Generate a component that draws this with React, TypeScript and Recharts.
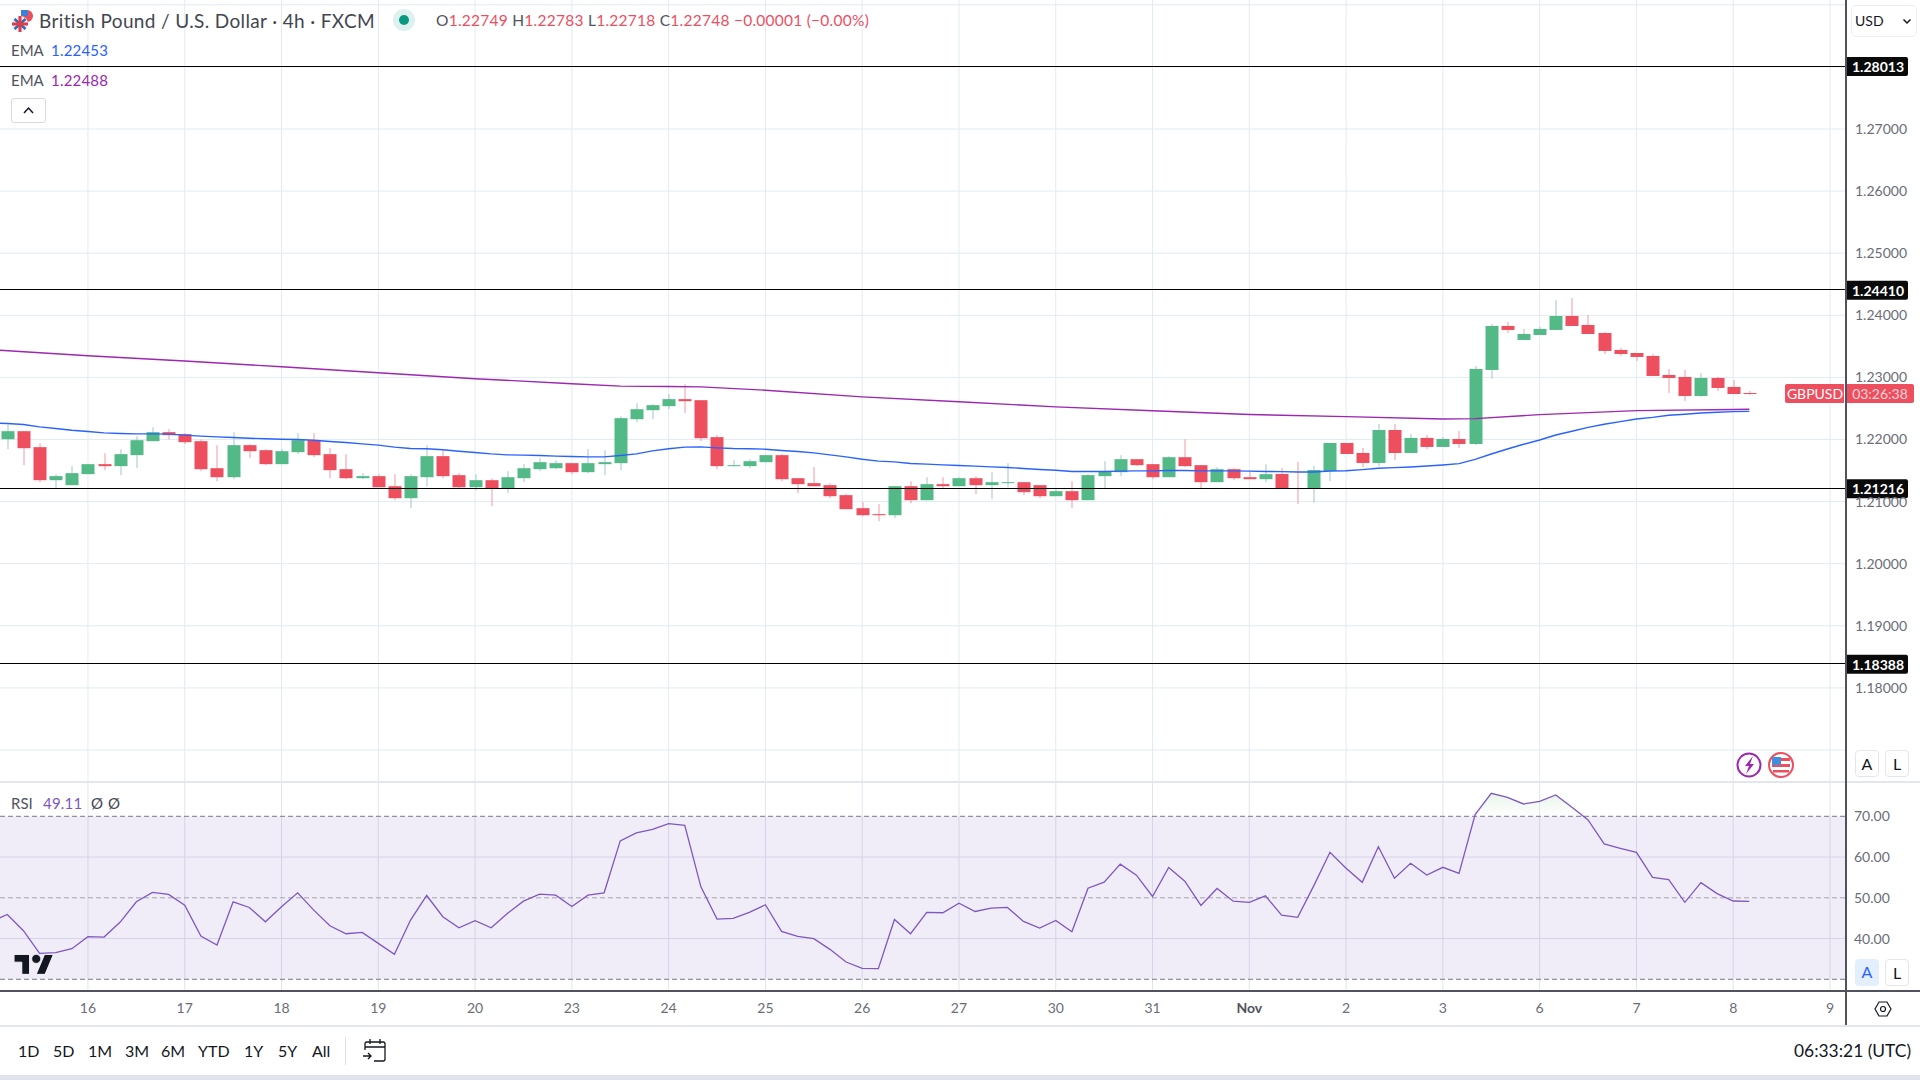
import {
  Area,
  Bar,
  CartesianGrid,
  ComposedChart,
  Label,
  Line,
  ReferenceArea,
  ReferenceLine,
  XAxis,
  YAxis,
} from "recharts";

const FONT = "Lato, 'Open Sans', sans-serif";

// candles, one entry per 4h bar
const candleOpen = [
  1.22005, 1.22134, 1.21877, 1.21345, 1.21265, 1.21442, 1.21603, 1.21571, 1.21748, 1.21973,
  1.22118, 1.22086, 1.21973, 1.21538, 1.21393, 1.21909, 1.21828, 1.21603, 1.21796, 1.21989,
  1.21764, 1.21522, 1.21377, 1.2141, 1.21248, 1.21055, 1.21393, 1.21732, 1.21426, 1.21232,
  1.21345, 1.21216, 1.21377, 1.21522, 1.21538, 1.21619, 1.21474, 1.21603, 1.21619, 1.22327,
  1.22472, 1.22537, 1.2265, 1.22633, 1.22038, 1.21571, 1.21571, 1.21635, 1.21748, 1.21377,
  1.21297, 1.21265, 1.21104, 1.20894, 1.20798, 1.20781, 1.21248, 1.21023, 1.21281, 1.21248,
  1.21377, 1.21265, 1.21297, 1.21313, 1.21265, 1.21087, 1.21168, 1.21023, 1.2141, 1.21474,
  1.21683, 1.21603, 1.21393, 1.21715, 1.21587, 1.21313, 1.21522, 1.21393, 1.21361, 1.21445,
  1.21219, 1.21209, 1.21493, 1.21944, 1.21783, 1.21622, 1.22153, 1.21783, 1.22025, 1.2188,
  1.22008, 1.21928, 1.2312, 1.23828, 1.23603, 1.23683, 1.23764, 1.23989, 1.23844, 1.23715,
  1.23442, 1.23393, 1.23345, 1.23039, 1.23007, 1.22701, 1.22991, 1.22846, 1.22749,
];
const candleHigh = [
  1.22242, 1.22134, 1.21941, 1.21442, 1.21571, 1.21603, 1.2178, 1.21844, 1.22054, 1.22199,
  1.22166, 1.22102, 1.22, 1.21909, 1.22118, 1.21925, 1.21844, 1.21844, 1.22102, 1.22102,
  1.2186, 1.21764, 1.21458, 1.21442, 1.21442, 1.21442, 1.21909, 1.21828, 1.21458, 1.21442,
  1.21377, 1.2149, 1.21603, 1.21699, 1.21667, 1.21619, 1.21844, 1.21828, 1.22376, 1.22585,
  1.22569, 1.2273, 1.22891, 1.22633, 1.2207, 1.21667, 1.21683, 1.21748, 1.21764, 1.21377,
  1.21554, 1.21297, 1.2112, 1.20991, 1.20959, 1.21248, 1.21329, 1.21393, 1.21393, 1.21393,
  1.2141, 1.21474, 1.21619, 1.21313, 1.21265, 1.21216, 1.21329, 1.21442, 1.21651, 1.21748,
  1.21683, 1.21603, 1.21732, 1.22005, 1.21587, 1.21554, 1.21538, 1.2149, 1.21603, 1.21541,
  1.21638, 1.21574, 1.21944, 1.21944, 1.21864, 1.2225, 1.2225, 1.22089, 1.22073, 1.22041,
  1.22137, 1.23184, 1.2386, 1.23893, 1.2378, 1.23812, 1.24247, 1.24279, 1.24005, 1.23732,
  1.23474, 1.23393, 1.23377, 1.23136, 1.2312, 1.23071, 1.23007, 1.22959, 1.22783,
];
const candleLow = [
  1.21844, 1.21587, 1.21313, 1.21216, 1.21265, 1.21442, 1.21506, 1.21426, 1.21538, 1.21973,
  1.22, 1.21925, 1.2149, 1.21329, 1.21361, 1.21699, 1.21587, 1.21603, 1.21764, 1.21715,
  1.21377, 1.21361, 1.21361, 1.21232, 1.21023, 1.20894, 1.21248, 1.21377, 1.21216, 1.21184,
  1.20926, 1.21136, 1.21313, 1.2149, 1.21522, 1.21442, 1.21458, 1.21426, 1.21506, 1.22279,
  1.22327, 1.22488, 1.22424, 1.21973, 1.21522, 1.21571, 1.21538, 1.21635, 1.21329, 1.21136,
  1.21248, 1.21055, 1.20878, 1.20765, 1.20685, 1.20733, 1.20975, 1.21023, 1.21216, 1.21248,
  1.2112, 1.21039, 1.21232, 1.21104, 1.21055, 1.21087, 1.20894, 1.21023, 1.212, 1.2141,
  1.21571, 1.21361, 1.21393, 1.21554, 1.212, 1.21313, 1.21345, 1.21361, 1.21313, 1.21209,
  1.20962, 1.20983, 1.21332, 1.21767, 1.21558, 1.21574, 1.2167, 1.21783, 1.21847, 1.2188,
  1.21864, 1.21912, 1.22975, 1.23715, 1.23603, 1.23683, 1.23764, 1.23828, 1.23699, 1.23377,
  1.23345, 1.23265, 1.23023, 1.22749, 1.2262, 1.22685, 1.22781, 1.22733, 1.22718,
];
const candleClose = [
  1.22134, 1.2186, 1.21345, 1.2141, 1.21458, 1.21603, 1.21571, 1.21764, 1.21989, 1.22118,
  1.2207, 1.21957, 1.21522, 1.21393, 1.21909, 1.21812, 1.21603, 1.21812, 1.21989, 1.21748,
  1.21506, 1.21377, 1.2141, 1.21232, 1.21055, 1.2141, 1.21732, 1.2141, 1.21232, 1.21345,
  1.21216, 1.21393, 1.21538, 1.21635, 1.21619, 1.21474, 1.21619, 1.21635, 1.22344, 1.22488,
  1.22553, 1.2265, 1.22617, 1.22021, 1.21571, 1.21587, 1.21651, 1.21748, 1.21361, 1.21281,
  1.21248, 1.21087, 1.20878, 1.20781, 1.20781, 1.21248, 1.21023, 1.21281, 1.21248, 1.21377,
  1.21265, 1.21313, 1.21313, 1.21152, 1.21087, 1.21168, 1.21023, 1.21426, 1.2149, 1.21683,
  1.21587, 1.21393, 1.21715, 1.21571, 1.21313, 1.21522, 1.21377, 1.21361, 1.21442, 1.21209,
  1.21209, 1.21509, 1.21944, 1.21767, 1.21622, 1.22153, 1.21783, 1.22025, 1.2188, 1.22008,
  1.21928, 1.23136, 1.23828, 1.23764, 1.23699, 1.2378, 1.23989, 1.23828, 1.23699, 1.23426,
  1.23377, 1.23329, 1.23023, 1.22991, 1.22701, 1.22991, 1.2283, 1.22733, 1.22748,
];

// first entry belongs to the bar just off the left edge
const emaFast = [
  1.22268, 1.22258, 1.22242, 1.22204, 1.22177, 1.2215, 1.22129, 1.22107, 1.22097, 1.22091, 1.22091,
  1.22086, 1.2207, 1.22054, 1.22043, 1.22032, 1.22021, 1.22011, 1.22005, 1.22, 1.21989,
  1.21968, 1.21952, 1.2193, 1.21909, 1.21877, 1.21855, 1.2185, 1.21834, 1.21812, 1.21791,
  1.21769, 1.21753, 1.21748, 1.21742, 1.21732, 1.21726, 1.21721, 1.21721, 1.21742, 1.21769,
  1.21817, 1.2185, 1.21877, 1.21882, 1.21866, 1.21855, 1.2185, 1.21844, 1.21823, 1.21807,
  1.21785, 1.21753, 1.21721, 1.21683, 1.21651, 1.2164, 1.21613, 1.21603, 1.21592, 1.21581,
  1.21571, 1.2156, 1.21549, 1.21533, 1.21517, 1.21506, 1.21485, 1.21485, 1.21485, 1.2149,
  1.21495, 1.21495, 1.21501, 1.21501, 1.21495, 1.21495, 1.21495, 1.2149, 1.21485, 1.21482,
  1.21477, 1.21477, 1.21493, 1.21498, 1.21515, 1.21536, 1.21547, 1.21558, 1.21574, 1.2159,
  1.21611, 1.21681, 1.21767, 1.21847, 1.21923, 1.21992, 1.22073, 1.22132, 1.22196, 1.22245,
  1.22288, 1.22331, 1.22357, 1.2239, 1.22406, 1.22427, 1.22438, 1.22449, 1.22453,
];

// read at the bars listed, the line runs straight between them
const emaSlowBars = [-1, 5, 11, 17, 23, 29, 35, 38, 41, 43, 47, 53, 59, 65, 71, 77, 83, 89, 91, 95, 101, 107, 108];
const emaSlowValues = [
  1.23446, 1.23349, 1.23263, 1.23172, 1.23075, 1.22979, 1.22898, 1.2286, 1.22854, 1.22848, 1.22794,
  1.22687, 1.22607, 1.22526, 1.22462, 1.22403, 1.22368, 1.22331, 1.22336, 1.224, 1.22465, 1.22484, 1.22488,
];

const rsiValues = [
  44.12, 45.92, 41.92, 36.37, 36.53, 37.51, 40.45, 40.37, 44.04, 49.02, 51.31,
  50.82, 48.2, 40.61, 38.41, 49.02, 47.63, 44.12, 47.8, 51.23, 46.98,
  43.14, 41.18, 41.51, 38.82, 36.12, 44.53, 50.57, 45.35, 42.65, 44.37,
  42.65, 46.16, 49.18, 50.9, 50.65, 47.88, 50.65, 51.23, 63.96, 65.92,
  66.82, 68.2, 67.8, 52.69, 44.78, 44.94, 46.41, 48.29, 41.76, 40.53,
  39.96, 37.35, 34.25, 32.69, 32.61, 44.69, 41.18, 46.41, 46.33, 48.69,
  46.65, 47.47, 47.63, 44.2, 42.57, 44.45, 41.67, 52.37, 53.84, 58.25,
  55.55, 50.33, 57.43, 54.08, 48.12, 52.29, 49.18, 48.86, 50.49, 45.76,
  45.21, 52.99, 61.17, 57.24, 53.8, 62.56, 54.79, 58.47, 55.6, 57.48,
  56.01, 70.41, 75.64, 74.66, 73.03, 73.68, 75.24, 72.21, 69.1, 63.21,
  62.15, 61.17, 55.03, 54.46, 48.9, 53.72, 51.02, 49.22, 49.11,
];

const priceTicks = [1.17, 1.18, 1.19, 1.2, 1.21, 1.22, 1.23, 1.24, 1.25, 1.26, 1.27, 1.28, 1.29];
const hiddenPriceTicks = [1.17, 1.28, 1.29];
const levels = [1.28013, 1.2441, 1.21216, 1.18388];
const lastPrice = 1.22748;

const rsiGrid = [40, 60];
const rsiBands = [30, 50, 70];
const rsiTicks = [40, 50, 60, 70];

const dayBars = [5, 11, 17, 23, 29, 35, 41, 47, 53, 59, 65, 71, 77, 83, 89, 95, 101, 107, 113];
const dayLabels = ["16", "17", "18", "19", "20", "23", "24", "25", "26", "27", "30", "31", "Nov", "2", "3", "6", "7", "8", "9"];

const ranges = ["1D", "5D", "1M", "3M", "6M", "YTD", "1Y", "5Y", "All"];
const rangeLefts = [18, 53, 88, 125, 161, 198, 244, 278, 312];

const rows = emaFast.map((fast, i) => {
  const bar = i - 1;
  const c = bar >= 0 ? bar : -1;
  const slowAt = emaSlowBars.indexOf(bar);
  return {
    bar,
    open: c >= 0 ? candleOpen[c] : null,
    close: c >= 0 ? candleClose[c] : null,
    range: c >= 0 ? [candleLow[c], candleHigh[c]] : null,
    emaFast: fast,
    emaSlow: slowAt >= 0 ? emaSlowValues[slowAt] : null,
    rsi: rsiValues[i],
    rsiOver: [70, Math.max(70, rsiValues[i])],
  };
});

const xDomain: [number, number] = [-0.4526, 113.93];

function Candle(props: any) {
  const { x, y, width, height, payload } = props;
  if (!payload || !payload.range) return null;
  const [low, high] = payload.range;
  const up = payload.close >= payload.open;
  const perUnit = Math.abs(height) / (high - low);
  const bodyTop = y + (high - Math.max(payload.open, payload.close)) * perUnit;
  const bodyH = Math.max(1, Math.abs(payload.open - payload.close) * perUnit);
  const mid = Math.round(x + width / 2);
  return (
    <g>
      <rect x={mid - 0.5} y={y} width={1} height={Math.abs(height)} fill={up ? "#a5c6c8" : "#f797a5"} />
      <rect x={mid - 6.5} y={bodyTop} width={13} height={bodyH} fill={up ? "#53b987" : "#ee4f5f"} />
    </g>
  );
}

function levelBadge(text: string) {
  return (props: any) => {
    const { x, y, width } = props.viewBox;
    const right = x + width;
    return (
      <g>
        <rect x={right} y={y - 9} width={63} height={19} rx={2} fill="#0a0a0a" />
        <text x={right + 33} y={y + 6} textAnchor="middle" fontSize={14} fontWeight={700} fontFamily={FONT} fill="#fff">
          {text}
        </text>
      </g>
    );
  };
}

function lastBadge(props: any) {
  const { x, y, width } = props.viewBox;
  const right = x + width;
  return (
    <g>
      <rect x={right - 60} y={y - 9} width={129} height={19} rx={2} fill="#ee4f5f" />
      <rect x={right - 1} y={y - 9} width={1} height={19} fill="#fff" />
      <text x={right - 30} y={y + 6} textAnchor="middle" fontSize={14} fontFamily={FONT} fill="#fff">
        GBPUSD
      </text>
      <text x={right + 35} y={y + 6} textAnchor="middle" fontSize={14} fontFamily={FONT} fill="#fbd5da">
        03:26:38
      </text>
    </g>
  );
}

function DayTick(props: any) {
  const { x, y, payload } = props;
  const label = dayLabels[dayBars.indexOf(payload.value)];
  return (
    <text x={x} y={y + 10} textAnchor="middle" fontSize={14} fontFamily={FONT} fontWeight={label === "Nov" ? 700 : 400} fill={label === "Nov" ? "#50535e" : "#6a6d78"}>
      {label}
    </text>
  );
}

function Txt({ x, y, size = 15, color = "#50535e", weight = 400, spacing = 0, children }: any) {
  return (
    <div
      style={{
        position: "absolute",
        left: x,
        top: y,
        fontSize: size,
        lineHeight: "20px",
        letterSpacing: spacing,
        color,
        fontWeight: weight,
        fontFamily: FONT,
        whiteSpace: "pre",
      }}
    >
      {children}
    </div>
  );
}

function Box({ x, y, w, h, bg, border, radius }: any) {
  return (
    <div
      style={{
        position: "absolute",
        left: x,
        top: y,
        width: w,
        height: h,
        background: bg,
        border,
        borderRadius: radius,
        boxSizing: "border-box",
      }}
    />
  );
}

function ScaleButton({ x, y, text, active }: any) {
  return (
    <div
      style={{
        position: "absolute",
        left: x,
        top: y,
        width: 24,
        height: 27,
        boxSizing: "border-box",
        border: active ? "none" : "1px solid #e4e6ec",
        background: active ? "#e3effd" : "#fff",
        borderRadius: 4,
        textAlign: "center",
        lineHeight: "26px",
        fontSize: 16,
        fontFamily: FONT,
        color: active ? "#2962ff" : "#131722",
      }}
    >
      {text}
    </div>
  );
}

function Flags() {
  return (
    <svg style={{ position: "absolute", left: 11, top: 9 }} width={24} height={24} viewBox="0 0 24 24">
      <circle cx={16} cy={7} r={6} fill="#e8505b" />
      <rect x={10} y={1} width={7} height={6} fill="#3f7fd6" />
      <circle cx={9} cy={15} r={8} fill="#e9eef6" />
      <path d="M3.5 10l11 10M14.5 10l-11 10" stroke="#3a66ad" strokeWidth={2.5} />
      <path d="M1 15h16M9 7v16" stroke="#e23b48" strokeWidth={3} />
    </svg>
  );
}

export default function App() {
  return (
    <div style={{ position: "absolute", left: 0, top: 0, width: 1920, height: 1080, background: "#fff", overflow: "hidden" }}>
      <div style={{ position: "absolute", left: 0, top: 0 }}>
        <ComposedChart width={1920} height={782} data={rows} margin={{ top: 0, right: 0, bottom: 0, left: 0 }}>
          <CartesianGrid stroke="#e1ebf2" horizontalValues={priceTicks} verticalValues={dayBars} />
          <XAxis type="number" dataKey="bar" domain={xDomain} allowDataOverflow hide ticks={dayBars} />
          <YAxis
            orientation="right"
            width={75}
            domain={[1.16485, 1.29077]}
            allowDataOverflow
            ticks={priceTicks}
            interval={0}
            tickLine={false}
            tickSize={0}
            tickMargin={10}
            axisLine={false}
            tick={{ fontSize: 14, fontFamily: FONT, fill: "#6a6d78" }}
            tickFormatter={(v: number) => (hiddenPriceTicks.includes(v) ? "" : v.toFixed(5))}
          />
          <Bar dataKey="range" barSize={13} shape={Candle} isAnimationActive={false} />
          <Line dataKey="emaSlow" stroke="#9c27b0" strokeWidth={1.4} dot={false} activeDot={false} connectNulls isAnimationActive={false} />
          <Line dataKey="emaFast" stroke="#2962ff" strokeWidth={1.4} dot={false} activeDot={false} isAnimationActive={false} />
          {levels.map((level) => (
            <ReferenceLine key={level} y={level} stroke="#000" strokeWidth={1} shapeRendering="crispEdges">
              <Label content={levelBadge(level.toFixed(5))} />
            </ReferenceLine>
          ))}
          <ReferenceLine y={lastPrice} stroke="none">
            <Label content={lastBadge} />
          </ReferenceLine>
        </ComposedChart>
      </div>

      <div style={{ position: "absolute", left: 0, top: 782 }}>
        <ComposedChart width={1920} height={244} data={rows} margin={{ top: 0, right: 0, bottom: 0, left: 0 }}>
          <defs>
            <linearGradient id="overFill" x1="0" y1="0" x2="0" y2="1">
              <stop offset="0%" stopColor="#c8e6c9" stopOpacity={0.8} />
              <stop offset="100%" stopColor="#e8f5e9" stopOpacity={0.15} />
            </linearGradient>
          </defs>
          <CartesianGrid stroke="#dfe4ef" horizontalValues={rsiGrid} verticalValues={dayBars} />
          <XAxis
            type="number"
            dataKey="bar"
            domain={xDomain}
            allowDataOverflow
            ticks={dayBars}
            interval={0}
            height={35}
            tickLine={false}
            tickSize={0}
            tickMargin={12}
            axisLine={false}
            tick={<DayTick />}
          />
          <YAxis
            orientation="right"
            width={75}
            domain={[27.13, 78.42]}
            allowDataOverflow
            ticks={rsiTicks}
            interval={0}
            tickLine={false}
            tickSize={0}
            tickMargin={9}
            axisLine={false}
            tick={{ fontSize: 14, fontFamily: FONT, fill: "#6a6d78" }}
            tickFormatter={(v: number) => v.toFixed(2)}
          />
          <ReferenceArea y1={30} y2={70} fill="#7e57c2" fillOpacity={0.11} stroke="none" />
          {rsiBands.map((v) => (
            <ReferenceLine key={v} y={v} stroke={v === 50 ? "#a5a6b0" : "#787b86"} strokeWidth={1} strokeDasharray="5 3" />
          ))}
          <Area dataKey="rsiOver" stroke="none" fill="url(#overFill)" dot={false} activeDot={false} isAnimationActive={false} />
          <Line dataKey="rsi" stroke="#7e57c2" strokeWidth={1.3} dot={false} activeDot={false} isAnimationActive={false} />
        </ComposedChart>
      </div>

      {/* pane frames */}
      <Box x={0} y={781} w={1920} h={2} bg="#e4e6ee" />
      <Box x={0} y={990} w={1920} h={2} bg="#50535e" />
      <Box x={1845} y={0} w={1.5} h={1026} bg="#50535e" />
      <Box x={0} y={1025} w={1920} h={2} bg="#e4e6ee" />
      <Box x={0} y={1075} w={1920} h={5} bg="#e0e3eb" />

      {/* header */}
      <Flags />
      <Txt x={39} y={11} size={19} spacing={0.36} color="#434651">British Pound / U.S. Dollar · 4h · FXCM</Txt>
      <Box x={393} y={9} w={22} h={22} bg="#dff1ee" radius={11} />
      <Box x={399} y={15} w={10} h={10} bg="#089981" radius={5} />
      <Txt x={436} y={10} size={15.5} spacing={0.25}>
        <span style={{ color: "#50535e" }}>O</span>
        <span style={{ color: "#ee4f5f" }}>1.22749</span>
        <span style={{ color: "#50535e" }}> H</span>
        <span style={{ color: "#ee4f5f" }}>1.22783</span>
        <span style={{ color: "#50535e" }}> L</span>
        <span style={{ color: "#ee4f5f" }}>1.22718</span>
        <span style={{ color: "#50535e" }}> C</span>
        <span style={{ color: "#ee4f5f" }}>1.22748</span>
        <span style={{ color: "#ee4f5f" }}> −0.00001 (−0.00%)</span>
      </Txt>
      <Txt x={11} y={40}>EMA</Txt>
      <Txt x={51} y={40} spacing={0.2} color="#2962ff">1.22453</Txt>
      <Txt x={11} y={70}>EMA</Txt>
      <Txt x={51} y={70} spacing={0.2} color="#9c27b0">1.22488</Txt>
      <Box x={11} y={98} w={35} h={25} bg="#fff" border="1px solid #d8dae2" radius={3} />
      <svg style={{ position: "absolute", left: 23, top: 106 }} width={11} height={8} viewBox="0 0 11 8">
        <path d="M1 7l4.5-5L10 7" fill="none" stroke="#131722" strokeWidth={1.5} />
      </svg>

      {/* currency and scale buttons */}
      <Box x={1851} y={5} w={66} h={32} bg="#fff" border="1px solid #eceef3" radius={5} />
      <Txt x={1855} y={11} size={14} color="#131722">USD</Txt>
      <svg style={{ position: "absolute", left: 1902, top: 18 }} width={10} height={7} viewBox="0 0 10 7">
        <path d="M1.5 1.5L5 5l3.5-3.5" fill="none" stroke="#131722" strokeWidth={1.5} />
      </svg>
      <ScaleButton x={1855} y={750} text="A" />
      <ScaleButton x={1885} y={750} text="L" />
      <ScaleButton x={1855} y={959} text="A" active />
      <ScaleButton x={1885} y={959} text="L" />

      {/* event markers */}
      <svg style={{ position: "absolute", left: 1735, top: 751 }} width={60} height={28} viewBox="0 0 60 28">
        <circle cx={14} cy={14} r={11.5} fill="#fff" stroke="#9c27b0" strokeWidth={2} />
        <path d="M18 5l-8 10h4l-3 8 8-10h-4z" fill="#9c27b0" />
        <circle cx={46} cy={14} r={12} fill="#fff" stroke="#ee4f5f" strokeWidth={2} />
        <path d="M37 7h18v3H37zM37 13h18v3H37zM38 19h16v2.5H38z" fill="#ee4f5f" />
        <rect x={37} y={6} width={9} height={8} fill="#3f8fe0" />
      </svg>

      {/* RSI legend and logo */}
      <Txt x={11} y={793}>RSI</Txt>
      <Txt x={43} y={793} spacing={0.2} color="#7e57c2">49.11</Txt>
      <Txt x={91} y={793} color="#434651">Ø</Txt>
      <Txt x={108} y={793} color="#434651">Ø</Txt>
      <svg style={{ position: "absolute", left: 14, top: 950 }} width={40} height={31} viewBox="0 0 36 28">
        <path d="M14 22H7V11H0V4h14v18zM28 22h-8l7.5-18h8L28 22z" fill="#131722" stroke="#fff" strokeWidth={0.8} />
        <circle cx={20} cy={8} r={4} fill="#131722" stroke="#fff" strokeWidth={0.5} />
      </svg>

      {/* gear */}
      <svg style={{ position: "absolute", left: 1874, top: 1000 }} width={18} height={18} viewBox="0 0 18 18">
        <path d="M5 2h8l4 7-4 7H5L1 9z" fill="none" stroke="#131722" strokeWidth={1.2} />
        <circle cx={9} cy={9} r={2.5} fill="none" stroke="#131722" strokeWidth={1.2} />
      </svg>

      {/* bottom toolbar */}
      {ranges.map((r, i) => (
        <Txt key={r} x={rangeLefts[i]} y={1041} size={16} color="#131722">{r}</Txt>
      ))}
      <Box x={345} y={1037} w={1} h={28} bg="#e0e3eb" />
      <svg style={{ position: "absolute", left: 362, top: 1038 }} width={25} height={24} viewBox="0 0 25 24">
        <path d="M3 12V6a2 2 0 0 1 2-2h16a2 2 0 0 1 2 2v15a2 2 0 0 1-2 2H12M3 9h20M8 1v5M18 1v5M1 18h8M6 15l3 3-3 3" fill="none" stroke="#131722" strokeWidth={1.3} />
      </svg>
      <Txt x={1794} y={1041} size={17.4} color="#131722">06:33:21 (UTC)</Txt>
    </div>
  );
}
